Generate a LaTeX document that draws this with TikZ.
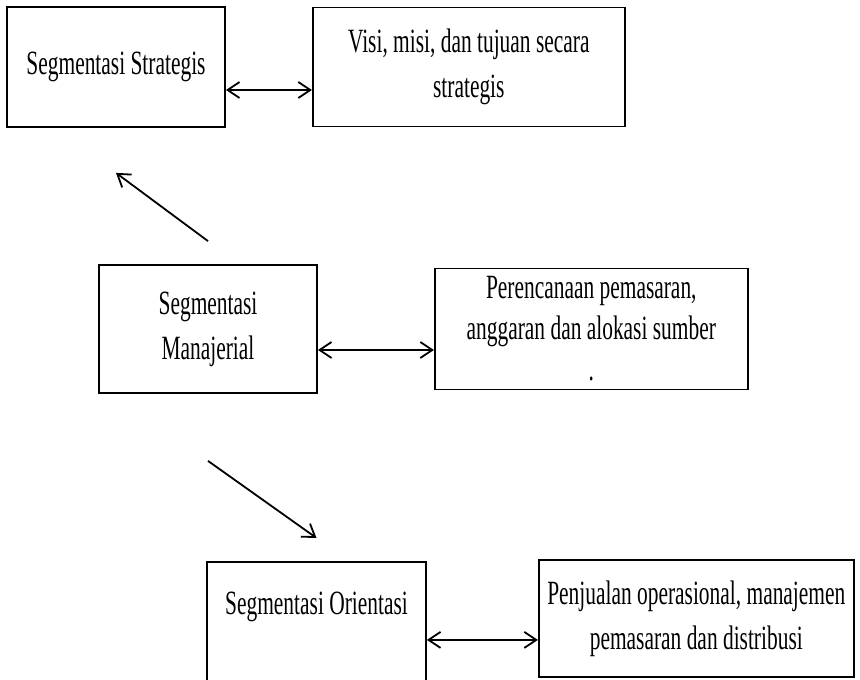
\documentclass[tikz,border=0pt]{standalone}
\usepackage{fontspec}
\setmainfont{Liberation Serif}[FakeStretch=0.63]
\usetikzlibrary{positioning,arrows.meta}
\tikzset{%
  >={Straight Barb[length=6pt,width=8pt]},
  segtext/.style={align=center,inner sep=0pt,font=\fontsize{17}{22.5}\selectfont},
  segbox/.style={segtext,draw,line width=0.9pt},
  link/.style={<->,line width=0.9pt},
  pointer/.style={->,line width=0.9pt}
}

\begin{document}
\begin{tikzpicture}[x=0.5pt,y=-0.5pt]
	\useasboundingbox (0,0) rectangle (860,679);
	
	%% segments and their levels
	\node[segbox,minimum width=109pt,minimum height=60pt] (strat) at (116,67) {Segmentasi Strategis};
	\node[segbox,minimum width=156pt,minimum height=59.5pt,right=43pt of strat] (visi)
	  {Visi, misi, dan tujuan secara\\strategis};
	
	\node[segbox,minimum width=109pt,minimum height=64pt] (mana) at (208,329) {Segmentasi\\Manajerial};
	\node[segbox,minimum width=156.5pt,minimum height=60.5pt,right=58pt of mana,
	  font=\fontsize{17}{20.5}\selectfont] (renc)
	  {Perencanaan pemasaran,\\anggaran dan alokasi sumber\\.};
	
	\node[segbox,minimum width=109.5pt,minimum height=64.5pt,anchor=north,
	  label={[segtext,anchor=center,yshift=-23pt]north:Segmentasi Orientasi}] (orient) at (316.5,561) {};
	\node[segbox,minimum width=157.5pt,minimum height=58.5pt,
	  right=55.5pt of orient.north east,anchor=north west,yshift=1pt] (dist)
	  {Penjualan operasional, manajemen\\pemasaran dan distribusi};
	
	%% links
	\draw[link] ([yshift=-11.5pt]strat.east) -- ([yshift=-11.5pt]visi.west);
	\draw[link] ([yshift=-10.5pt]mana.east) -- ([yshift=-10.5pt]renc.west);
	\coordinate (p3) at ([yshift=-10.75pt]dist.west);
	\draw[link] (orient.east |- p3) -- (p3);
	
	\coordinate (up) at ([yshift=11.5pt]mana.north);
	\coordinate (upend) at ([yshift=-22.5pt]strat.south);
	\draw[pointer] (up) -- (upend);
	\coordinate (down) at ([yshift=-33.5pt]mana.south);
	\coordinate (downend) at ([yshift=11.5pt]orient.north);
	\draw[pointer] (down) -- (downend);
\end{tikzpicture}
\end{document}
